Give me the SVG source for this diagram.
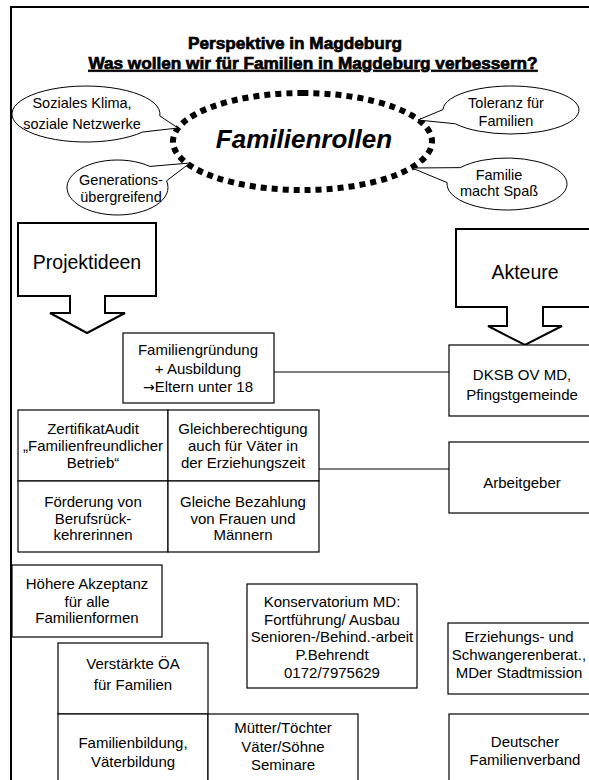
<svg xmlns="http://www.w3.org/2000/svg" width="589" height="780" viewBox="0 0 589 780">
  <style>
    .page { fill: #fff; stroke: #000; stroke-width: 2; }
    .box { fill: #fff; stroke: #000; stroke-width: 1.2; }
    .big { fill: #fff; stroke: #000; stroke-width: 2; }
    .bubble { fill: #fff; stroke: #000; stroke-width: 1; }
    .t { font-family: "Liberation Sans", Arial, sans-serif; font-size: 15px; text-anchor: middle; fill: #000; }
    .tb { font-family: "Liberation Sans", Arial, sans-serif; font-size: 14.5px; text-anchor: middle; fill: #000; }
    .tl { font-family: "Liberation Sans", Arial, sans-serif; font-size: 19.5px; text-anchor: middle; fill: #000; }
    .title { font-family: "Liberation Sans", Arial, sans-serif; font-size: 17.2px; font-weight: bold; text-anchor: middle; fill: #000; stroke: #000; stroke-width: 0.7; }
    .conn { stroke: #000; stroke-width: 1.2; fill: none; }
  </style>

  <!-- page frame -->
  <rect class="page" x="11" y="7" width="600" height="800"/>

  <!-- heading -->
  <g id="heading">
    <text class="title" x="295" y="49">Perspektive in Magdeburg</text>
    <text class="title" x="313" y="69" text-decoration="underline">Was wollen wir für Familien in Magdeburg verbessern?</text>
  </g>

  <!-- central theme -->
  <g id="familienrollen">
    <path d="M302.5,93 A129.5,48.5 0 1,1 302.5,190 A129.5,48.5 0 1,1 302.5,93" fill="none" stroke="#000" stroke-width="6" stroke-dasharray="6 5"/>
    <text x="304" y="148" font-family="'Liberation Sans', Arial, sans-serif" font-size="26" font-weight="bold" font-style="italic" text-anchor="middle">Familienrollen</text>
  </g>

  <!-- speech bubbles -->
  <g id="soziales-klima">
    <path class="bubble" d="M142.7,132 A74,28 0 1,1 159.8,115.95 L178,128 Z"/>
    <text class="tb" x="82" y="108">Soziales Klima,</text>
    <text class="tb" x="82" y="129">soziale Netzwerke</text>
  </g>
  <g id="generationen">
    <path class="bubble" d="M166.5,180.85 A50.5,27.5 0 1,1 149.96,166.43 L190,163 Z"/>
    <text class="tb" x="121" y="185">Generations-</text>
    <text class="tb" x="121" y="202">übergreifend</text>
  </g>
  <g id="toleranz">
    <path class="bubble" d="M443,109.58 A68,24 0 1,1 455.3,123.77 L418,120 Z"/>
    <text class="tb" x="506" y="108">Toleranz für</text>
    <text class="tb" x="506" y="126">Familien</text>
  </g>
  <g id="spass">
    <path class="bubble" d="M460.4,167.64 A60,26 0 1,1 447.1,182.64 L412,168 Z"/>
    <text class="tb" x="499" y="180">Familie</text>
    <text class="tb" x="499" y="196">macht Spaß</text>
  </g>

  <!-- block arrows -->
  <g id="projektideen">
    <path class="big" d="M18,223 H156 V296 H105 V313 H125 L87,333 L50,313 H70 V296 H18 Z"/>
    <text class="tl" x="87" y="269">Projektideen</text>
  </g>
  <g id="akteure">
    <path class="big" d="M456,229 H594 V307 H543 V326 H562 L525,345 L488,326 H507 V307 H456 Z"/>
    <text class="tl" x="525" y="279">Akteure</text>
  </g>

  <!-- connectors -->
  <g id="connectors">
    <line class="conn" x1="274" y1="372" x2="449" y2="372"/>
    <line class="conn" x1="319" y1="469" x2="449" y2="469"/>
  </g>

  <!-- project ideas -->
  <g id="familiengruendung">
    <rect class="box" x="123" y="333" width="151" height="70"/>
    <text class="t" x="198" y="355">Familiengründung</text>
    <text class="t" x="198" y="374">+ Ausbildung</text>
    <text class="t" x="198" y="392"><tspan font-family="'DejaVu Sans', sans-serif" font-size="14">→</tspan>Eltern unter 18</text>
  </g>

  <g id="zertifikat">
    <rect class="box" x="18" y="410" width="150" height="71"/>
    <text class="t" x="93" y="434">ZertifikatAudit</text>
    <text class="t" x="93" y="451">„Familienfreundlicher</text>
    <text class="t" x="93" y="468">Betrieb“</text>
  </g>
  <g id="gleichberechtigung">
    <rect class="box" x="168" y="410" width="151" height="71"/>
    <text class="t" x="243" y="434">Gleichberechtigung</text>
    <text class="t" x="243" y="451">auch für Väter in</text>
    <text class="t" x="243" y="468">der Erziehungszeit</text>
  </g>
  <g id="foerderung">
    <rect class="box" x="18" y="481" width="150" height="71"/>
    <text class="t" x="93" y="507">Förderung von</text>
    <text class="t" x="93" y="523.5">Berufsrück-</text>
    <text class="t" x="93" y="540">kehrerinnen</text>
  </g>
  <g id="bezahlung">
    <rect class="box" x="168" y="481" width="151" height="71"/>
    <text class="t" x="243" y="507">Gleiche Bezahlung</text>
    <text class="t" x="243" y="523.5">von Frauen und</text>
    <text class="t" x="243" y="540">Männern</text>
  </g>

  <g id="akzeptanz">
    <rect class="box" x="12" y="565" width="150" height="72"/>
    <text class="t" x="87" y="589">Höhere Akzeptanz</text>
    <text class="t" x="87" y="607">für alle</text>
    <text class="t" x="87" y="623">Familienformen</text>
  </g>

  <g id="konservatorium">
    <rect class="box" x="247" y="584" width="170" height="104"/>
    <text class="t" x="332" y="607">Konservatorium MD:</text>
    <text class="t" x="332" y="625">Fortführung/ Ausbau</text>
    <text class="t" x="332" y="642">Senioren-/Behind.-arbeit</text>
    <text class="t" x="332" y="660">P.Behrendt</text>
    <text class="t" x="332" y="678">0172/7975629</text>
  </g>

  <g id="oeffentlichkeitsarbeit">
    <rect class="box" x="58" y="643" width="150" height="71"/>
    <text class="t" x="133" y="669">Verstärkte ÖA</text>
    <text class="t" x="133" y="690">für Familien</text>
  </g>
  <g id="familienbildung">
    <rect class="box" x="58" y="714" width="150" height="80"/>
    <text class="t" x="133" y="748">Familienbildung,</text>
    <text class="t" x="133" y="767">Väterbildung</text>
  </g>
  <g id="seminare">
    <rect class="box" x="208" y="714" width="150" height="80"/>
    <text class="t" x="283" y="733">Mütter/Töchter</text>
    <text class="t" x="283" y="752">Väter/Söhne</text>
    <text class="t" x="283" y="770">Seminare</text>
  </g>

  <!-- actors -->
  <g id="dksb">
    <rect class="box" x="449" y="345" width="147" height="71"/>
    <text class="t" x="522" y="380">DKSB OV MD,</text>
    <text class="t" x="522" y="400">Pfingstgemeinde</text>
  </g>
  <g id="arbeitgeber">
    <rect class="box" x="449" y="442" width="147" height="71"/>
    <text class="t" x="522" y="488">Arbeitgeber</text>
  </g>
  <g id="beratung">
    <rect class="box" x="448" y="623" width="148" height="71"/>
    <text class="t" x="519" y="642">Erziehungs- und</text>
    <text class="t" x="519" y="660">Schwangerenberat.,</text>
    <text class="t" x="519" y="678">MDer Stadtmission</text>
  </g>
  <g id="familienverband">
    <rect class="box" x="449" y="714" width="147" height="80"/>
    <text class="t" x="525" y="747">Deutscher</text>
    <text class="t" x="525" y="765">Familienverband</text>
  </g>
</svg>
